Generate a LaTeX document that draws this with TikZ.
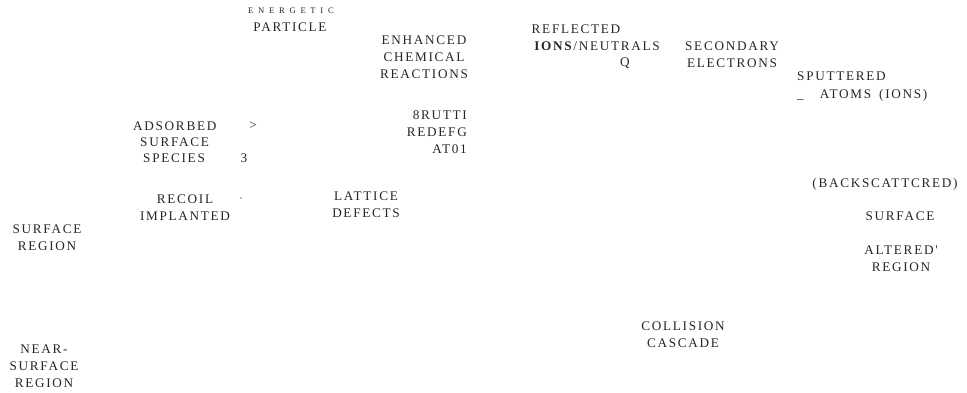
\documentclass[tikz,border=0pt]{standalone}
\usepackage{fontspec}
\setmainfont{Liberation Serif}
\newfontfamily\lblfont[LetterSpace=13]{Liberation Serif}
\newfontfamily\tinyfont[LetterSpace=55]{Liberation Serif}
\begin{document}
\begin{tikzpicture}[x=1pt,y=-1pt,
  lbl/.style={inner sep=0pt,font=\lblfont\fontsize{13.2}{16.8}\selectfont,align=center,text=black!85},
  lblr/.style={lbl,align=right},
  lbll/.style={lbl,align=left},
  small/.style={inner sep=0pt,font=\tinyfont\fontsize{8.6}{10}\selectfont,text=black!85}]
\useasboundingbox (0,0) rectangle (967,393);
\node[small] (energetic) at (291,11) {ENERGETIC};
\node[lbl] (particle) at (290,27) {PARTICLE};
\node[lbl] (enhanced) at (424,57) {ENHANCED\\CHEMICAL\\REACTIONS};
\node[lbl] (reflected) at (576,29) {REFLECTED};
\node[lbl] (ions) at (597,46) {\textbf{IONS}/NEUTRALS};
\node[lbl] (q) at (625,63) {Q};
\node[lbl] (secondary) at (732,54.5) {SECONDARY\\ELECTRONS};
\node[lbl,anchor=west] (sputtered) at (797,76) {SPUTTERED};
\node[lbl,anchor=west] (atoms) at (797,95) {\_\hspace{16pt}ATOMS\hspace{3pt} (IONS)};
\node[lbll,anchor=west] (adsorbed) at (133,126) {ADSORBED};
\node[lbl] (gt) at (253,126) {>};
\node[lbll,anchor=west] (surfsp) at (140,142) {SURFACE};
\node[lbll,anchor=west] (species) at (143,158) {SPECIES};
\node[lbl] (three) at (244,158) {3};
\node[lblr,anchor=east] (rutti) at (467,132) {8RUTTI\\REDEFG\\AT01};
\node[lbl] (recoil) at (185,208) {RECOIL\\IMPLANTED};
\node[lbl] (dot) at (241,199) {$\cdot$};
\node[lbl] (lattice) at (366,205) {LATTICE\\DEFECTS};
\node[lbl] (backsc) at (885,184) {(BACKSCATTCRED)};
\node[lbl] (surfalt) at (900,216) {SURFACE};
\node[lbl] (altered) at (901,259) {ALTERED'\\REGION};
\node[lbl] (surfreg) at (47,237.5) {SURFACE\\REGION};
\node[lbl] (collision) at (683,334.5) {COLLISION\\CASCADE};
\node[lbl] (near) at (44,366) {NEAR-\\SURFACE\\REGION};
\end{tikzpicture}
\end{document}
